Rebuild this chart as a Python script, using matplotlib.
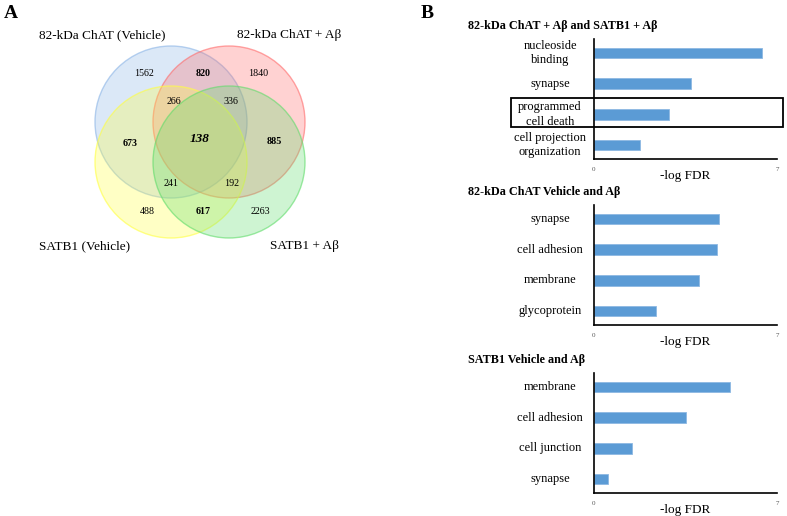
import numpy as np
import matplotlib.pyplot as plt
from matplotlib.patches import Circle, Rectangle
import matplotlib.transforms as mtransforms

plt.rcParams['font.family'] = ['Liberation Serif', 'DejaVu Serif']

### Venn data
set_names = ['82-kDa ChAT (Vehicle)', '82-kDa ChAT + Aβ', 'SATB1 (Vehicle)', 'SATB1 + Aβ']
set_colors = ['#8ab4e6', '#ff6b6b', '#ffff40', '#5fdc6a']
region_counts = ['1562', '820', '1840', '266', '336', '673', '138', '885', '241', '192', '488', '617', '2263']
region_bold = [False, True, False, False, False, True, True, True, False, False, False, True, False]

### bar chart data
titles = ['82-kDa ChAT + Aβ and SATB1 + Aβ', '82-kDa ChAT Vehicle and Aβ', 'SATB1 Vehicle and Aβ']
terms = [['nucleoside\nbinding', 'synapse', 'programmed\ncell death', 'cell projection\norganization'],
         ['synapse', 'cell adhesion', 'membrane', 'glycoprotein'],
         ['membrane', 'cell adhesion', 'cell junction', 'synapse']]
logfdr = [[6.43, 3.71, 2.87, 1.76],
          [4.78, 4.70, 4.02, 2.37],
          [5.20, 3.52, 1.45, 0.54]]

fig = plt.figure(figsize=(7.87, 5.16), dpi=100)
W, H = 787, 516

# background axes in pixel coords
bg = fig.add_axes([0, 0, 1, 1])
bg.set_xlim(0, W)
bg.set_ylim(H, 0)
bg.axis('off')

centers = [(171, 122), (229, 122), (171, 162), (229, 162)]
r = 76
for c, col in zip(centers, set_colors):
    bg.add_patch(Circle(c, r, facecolor=col, alpha=0.3, edgecolor='none'))
    bg.add_patch(Circle(c, r, facecolor='none', edgecolor=col, alpha=0.6, lw=1))

name_pos = [(102, 35), (289, 35), (85, 246), (305, 246)]
for n, p in zip(set_names, name_pos):
    bg.text(p[0], p[1], n, ha='center', va='center', fontsize=9.5)

count_pos = [(144, 73), (203, 73), (258, 73), (174, 101), (231, 101), (130, 143),
             (200, 139), (274, 142), (171, 184), (232, 184), (147, 212), (203, 212), (260, 212)]
for cnt, p, b in zip(region_counts, count_pos, region_bold):
    if cnt == '138':
        bg.text(p[0], p[1], cnt, ha='center', va='center', fontsize=9.5,
                fontweight='bold', fontstyle='italic')
    else:
        bg.text(p[0], p[1], cnt, ha='center', va='center', fontsize=7.2,
                fontweight='bold' if b else 'normal')

bg.text(4, 13, 'A', ha='left', va='center', fontsize=14, fontweight='bold')
bg.text(421, 13, 'B', ha='left', va='center', fontsize=14, fontweight='bold')

ax_tops = [39, 205, 373]
ax_h = 120
for k in range(3):
    top = ax_tops[k]
    ax = fig.add_axes([594 / W, 1 - (top + ax_h) / H, 183 / W, ax_h / H])
    y = np.arange(len(terms[k]))
    ax.barh(y, logfdr[k], height=0.34, color='#5b9bd5', edgecolor='#8db8e3', lw=0.6)
    ax.set_xlim(0, 7)
    ax.set_ylim(3.45, -0.45)
    for s in ['top', 'right']:
        ax.spines[s].set_visible(False)
    ax.spines['left'].set_linewidth(1.2)
    ax.spines['bottom'].set_linewidth(1.2)
    ax.set_yticks([])
    ax.set_xticks([0, 7])
    ax.set_xticklabels(['0', '7'], fontsize=5, color='#555555')
    ax.tick_params(axis='x', length=0, pad=6)
    ax.set_xlabel('-log FDR', fontsize=9.5, labelpad=-2)
    trans = mtransforms.blended_transform_factory(ax.transAxes, ax.transData)
    for yi, t in zip(y, terms[k]):
        ax.text(-0.24, yi, t, transform=trans, ha='center', va='center',
                fontsize=9, linespacing=1.25)
    bg.text(468, top - 13, titles[k], ha='left', va='center', fontsize=8.7, fontweight='bold')

# box around "programmed cell death", drawn on top of the bar axes
box = Rectangle((511, 98), 272, 29, fill=False, edgecolor='black', lw=1.3,
                transform=bg.transData, zorder=10)
fig.add_artist(box)

fig.savefig('out.png', dpi=100)
